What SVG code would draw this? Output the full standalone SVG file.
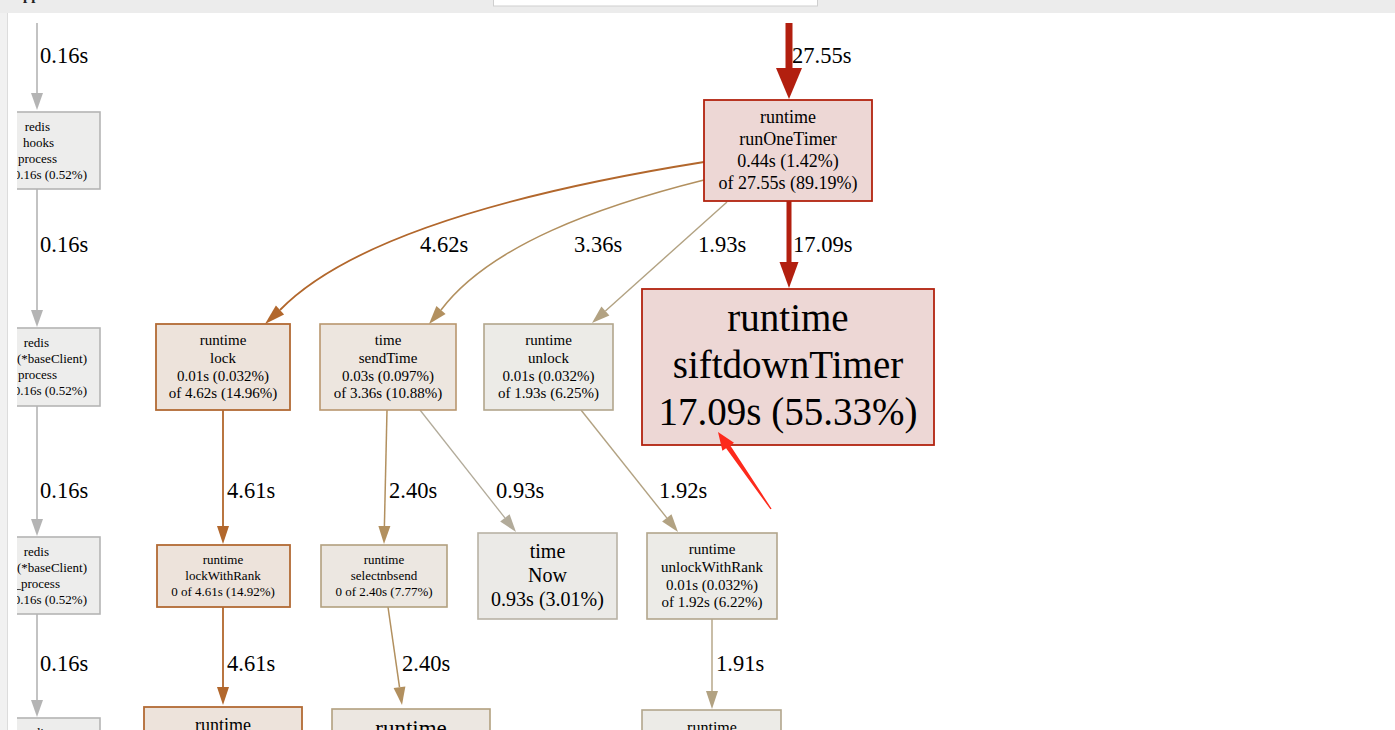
<svg xmlns="http://www.w3.org/2000/svg" width="1395" height="730" viewBox="0 0 1395 730">
<defs>
<style>
text{font-family:"Liberation Serif","Times New Roman",serif;fill:#000}
.n text{text-anchor:middle}
.lbl{font-size:22.5px}
.e{fill:none}
.red{stroke:#b21f0f}
.redf{fill:#b21f0f}
.brn{stroke:#b2672c}
.brnf{fill:#b2672c}
.tan{stroke:#b2905f}
.tanf{fill:#b2905f}
.bei{stroke:#b2a282}
.beif{fill:#b2a282}
.gry{stroke:#b2ab9a}
.gryf{fill:#b2ab9a}
.lg{stroke:#b4b4b4}
.lgf{fill:#b4b4b4}
.hot rect{fill:#edd7d5;stroke:#b2230f;stroke-width:1.8}
.lk rect{fill:#ede3db;stroke:#b26a34;stroke-width:1.8}
.st rect{fill:#ede6df;stroke:#b8976e;stroke-width:1.6}
.sb rect{fill:#ece7e1;stroke:#b2a07f;stroke-width:1.6}
.ul rect{fill:#ecebe7;stroke:#b2a68c;stroke-width:1.6}
.nw rect{fill:#ebeae7;stroke:#b8b2a5;stroke-width:1.6}
.lc rect{fill:#ededec;stroke:#b4b4b4;stroke-width:1.6}
.lc text{text-anchor:end;font-size:13px}
</style>
<clipPath id="lclip"><rect x="17" y="0" width="120" height="730"/></clipPath>
</defs>
<rect width="1395" height="730" fill="#fff"/>

<g id="connectors">
<path class="e lg" stroke-width="1.6" d="M37,23V93"/>
<polygon class="lgf" points="31,93 37,110 43,93"/>
<text class="lbl" x="40" y="63">0.16s</text>
<path class="e lg" stroke-width="1.6" d="M37,189V310"/>
<polygon class="lgf" points="31,310 37,327 43,310"/>
<text class="lbl" x="40" y="252">0.16s</text>
<path class="e lg" stroke-width="1.6" d="M37,406V519"/>
<polygon class="lgf" points="31,519 37,536 43,519"/>
<text class="lbl" x="40" y="498">0.16s</text>
<path class="e lg" stroke-width="1.6" d="M37,614V700"/>
<polygon class="lgf" points="31,700 37,717 43,700"/>
<text class="lbl" x="40" y="671">0.16s</text>

<path class="e red" stroke-width="7" d="M789,23V69"/>
<polygon class="redf" points="776,68 789,99 802,68"/>
<text class="lbl" x="792" y="63">27.55s</text>

<path class="e red" stroke-width="5" d="M789,201V263"/>
<polygon class="redf" points="779.5,262 789,288 798.5,262"/>
<text class="lbl" x="793" y="252">17.09s</text>

<path class="e brn" stroke-width="1.8" d="M704,162C560,185 360,228 280,310"/>
<polygon class="brnf" points="284.1,314.4 265,324 275.9,305.6"/>
<text class="lbl" x="420" y="252">4.62s</text>

<path class="e tan" stroke-width="1.6" d="M704,180C600,206 490,245 441,310"/>
<polygon class="tanf" points="445.6,313.9 429,324 436.4,306.1"/>
<text class="lbl" x="574" y="252">3.36s</text>

<path class="e bei" stroke-width="1.4" d="M727,202L605.4,311"/>
<polygon class="beif" points="609.4,315.5 592,323 601.4,306.5"/>
<text class="lbl" x="698" y="252">1.93s</text>

<path class="e brn" stroke-width="1.8" d="M223,410V526"/>
<polygon class="brnf" points="217,526 223,544 229,526"/>
<text class="lbl" x="227" y="498">4.61s</text>

<path class="e tan" stroke-width="1.5" d="M387,410L384.4,526"/>
<polygon class="tanf" points="378.4,526 384,544 390.4,526"/>
<text class="lbl" x="389" y="498">2.40s</text>

<path class="e gry" stroke-width="1.3" d="M420,410L504.9,517.9"/>
<polygon class="gryf" points="509.6,514.2 516,532 500.2,521.6"/>
<text class="lbl" x="496" y="498">0.93s</text>

<path class="e bei" stroke-width="1.4" d="M581,410L666.8,517.9"/>
<polygon class="beif" points="671.5,514.2 678,532 662.1,521.6"/>
<text class="lbl" x="659" y="498">1.92s</text>

<path class="e brn" stroke-width="1.8" d="M223,607V687"/>
<polygon class="brnf" points="217,687 223,705 229,687"/>
<text class="lbl" x="227" y="671">4.61s</text>

<path class="e tan" stroke-width="1.5" d="M388,607L399.5,687.2"/>
<polygon class="tanf" points="405.4,686.4 402,705 393.6,688"/>
<text class="lbl" x="402" y="671">2.40s</text>

<path class="e bei" stroke-width="1.4" d="M712,619V691"/>
<polygon class="beif" points="706,691 712,709 718,691"/>
<text class="lbl" x="716" y="671">1.91s</text>
</g>

<g clip-path="url(#lclip)">
<g id="node-hooks-process" class="n lc">
<rect x="10" y="112" width="90" height="77"/>
<text x="50" y="131">redis</text>
<text x="54" y="147">hooks</text>
<text x="57" y="163">process</text>
<text x="87" y="179">0 of 0.16s (0.52%)</text>
</g>
<g id="node-baseClient-process" class="n lc">
<rect x="10" y="328" width="90" height="78"/>
<text x="49" y="347">redis</text>
<text x="87" y="363" font-size="14">(*baseClient)</text>
<text x="57" y="379">process</text>
<text x="87" y="395">0 of 0.16s (0.52%)</text>
</g>
<g id="node-baseClient-_process" class="n lc">
<rect x="10" y="537" width="90" height="77"/>
<text x="49" y="556">redis</text>
<text x="87" y="572" font-size="14">(*baseClient)</text>
<text x="60" y="588">_process</text>
<text x="87" y="604">0 of 0.16s (0.52%)</text>
</g>
<g id="node-left-bottom" class="n lc">
<rect x="10" y="718" width="90" height="30"/>
<text x="49" y="737">redis</text>
</g>
</g>

<g id="node-runOneTimer" class="n hot" font-size="18">
<rect x="704" y="100" width="168" height="101"/>
<text x="788" y="123">runtime</text>
<text x="788" y="145">runOneTimer</text>
<text x="788" y="167">0.44s (1.42%)</text>
<text x="788" y="189">of 27.55s (89.19%)</text>
</g>

<g id="node-siftdownTimer" class="n hot" font-size="39">
<rect x="642" y="289" width="292" height="156"/>
<text x="788" y="331">runtime</text>
<text x="788" y="378">siftdownTimer</text>
<text x="788" y="425">17.09s (55.33%)</text>
</g>

<g id="node-lock" class="n lk" font-size="15">
<rect x="156" y="324" width="134" height="86"/>
<text x="223" y="345">runtime</text>
<text x="223" y="363">lock</text>
<text x="223" y="381">0.01s (0.032%)</text>
<text x="223" y="398">of 4.62s (14.96%)</text>
</g>

<g id="node-sendTime" class="n st" font-size="15">
<rect x="320" y="324" width="136" height="86"/>
<text x="388" y="345">time</text>
<text x="388" y="363">sendTime</text>
<text x="388" y="381">0.03s (0.097%)</text>
<text x="388" y="398">of 3.36s (10.88%)</text>
</g>

<g id="node-unlock" class="n ul" font-size="15">
<rect x="484" y="324" width="129" height="86"/>
<text x="548.5" y="345">runtime</text>
<text x="548.5" y="363">unlock</text>
<text x="548.5" y="381">0.01s (0.032%)</text>
<text x="548.5" y="398">of 1.93s (6.25%)</text>
</g>

<g id="node-lockWithRank" class="n lk" font-size="13">
<rect x="157" y="545" width="133" height="62"/>
<text x="223" y="564">runtime</text>
<text x="223" y="580">lockWithRank</text>
<text x="223" y="596">0 of 4.61s (14.92%)</text>
</g>

<g id="node-selectnbsend" class="n sb" font-size="13">
<rect x="321" y="545" width="126" height="62"/>
<text x="384" y="564">runtime</text>
<text x="384" y="580">selectnbsend</text>
<text x="384" y="596">0 of 2.40s (7.77%)</text>
</g>

<g id="node-Now" class="n nw" font-size="20">
<rect x="478" y="533" width="139" height="86"/>
<text x="547.5" y="558">time</text>
<text x="547.5" y="582">Now</text>
<text x="547.5" y="606">0.93s (3.01%)</text>
</g>

<g id="node-unlockWithRank" class="n ul" font-size="15">
<rect x="647" y="533" width="130" height="86"/>
<text x="712" y="554">runtime</text>
<text x="712" y="572">unlockWithRank</text>
<text x="712" y="590">0.01s (0.032%)</text>
<text x="712" y="607">of 1.92s (6.22%)</text>
</g>

<g id="node-lock-child" class="n lk" font-size="18">
<rect x="144" y="707" width="158" height="40"/>
<text x="223" y="731">runtime</text>
</g>

<g id="node-select-child" class="n sb" font-size="23">
<rect x="332" y="709" width="158" height="40"/>
<text x="411" y="736">runtime</text>
</g>

<g id="node-unlockWithRank-child" class="n ul" font-size="16">
<rect x="642" y="710" width="139" height="40"/>
<text x="712" y="733">runtime</text>
</g>

<polygon fill="#fd2a1c" points="770.4,509.3 726.1,448.2 722.4,450.8 718,432 734,442.8 730.3,445.4 771.6,508.7"/>

<rect x="0" y="0" width="1395" height="13" fill="#ececec"/>
<rect x="0" y="13" width="7" height="717" fill="#f1f1f1"/>
<line x1="7.5" y1="13" x2="7.5" y2="730" stroke="#dcdcdc"/>
<rect x="493.5" y="-2" width="324" height="8" fill="#fff" stroke="#cfcfcf"/>
<text x="23" y="0" font-family="Liberation Sans,Arial,sans-serif" font-weight="bold" font-size="15" style="fill:#222">pp</text>
</svg>
